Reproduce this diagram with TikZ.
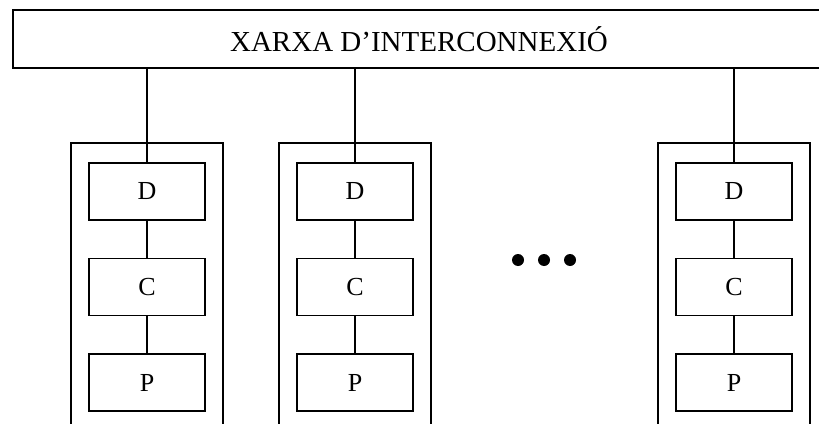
\documentclass[tikz,border=0pt]{standalone}
\usepackage{fontspec}
\setmainfont{Liberation Serif}
\usetikzlibrary{positioning}

\begin{document}
\begin{tikzpicture}[
    x=1pt, y=-1pt,
    line width=1.6pt,
    node distance=37pt,
    bus/.style={rectangle, draw, minimum width=812pt, minimum height=58pt, inner sep=0pt, font=\fontsize{29}{29}\selectfont},
    unit/.style={rectangle, draw, minimum width=116pt, minimum height=57pt, inner sep=0pt, font=\fontsize{26}{26}\selectfont}
]
    \useasboundingbox (0,0) rectangle (819,423);

    % Interconnection network
    \node[bus] (xarxa) at (419,39) {XARXA D’INTERCONNEXIÓ};

    % Processing nodes
    \foreach \i/\x in {1/147, 2/355, 3/734} {
        \node[unit] (d\i) at (\x,191.5) {D};
        \node[unit, below=of d\i] (c\i) {C};
        \node[unit, below=of c\i] (p\i) {P};

        % open-bottomed frame around each node
        \draw (\x-76,430) -- (\x-76,143) -- (\x+76,143) -- (\x+76,430);

        \draw (xarxa.south -| d\i.north) -- (d\i.north);
        \draw (d\i) -- (c\i);
        \draw (c\i) -- (p\i);
    }

    % Dots
    \foreach \x in {518, 544, 570}
        \fill (\x,260) circle (6pt);
\end{tikzpicture}
\end{document}
